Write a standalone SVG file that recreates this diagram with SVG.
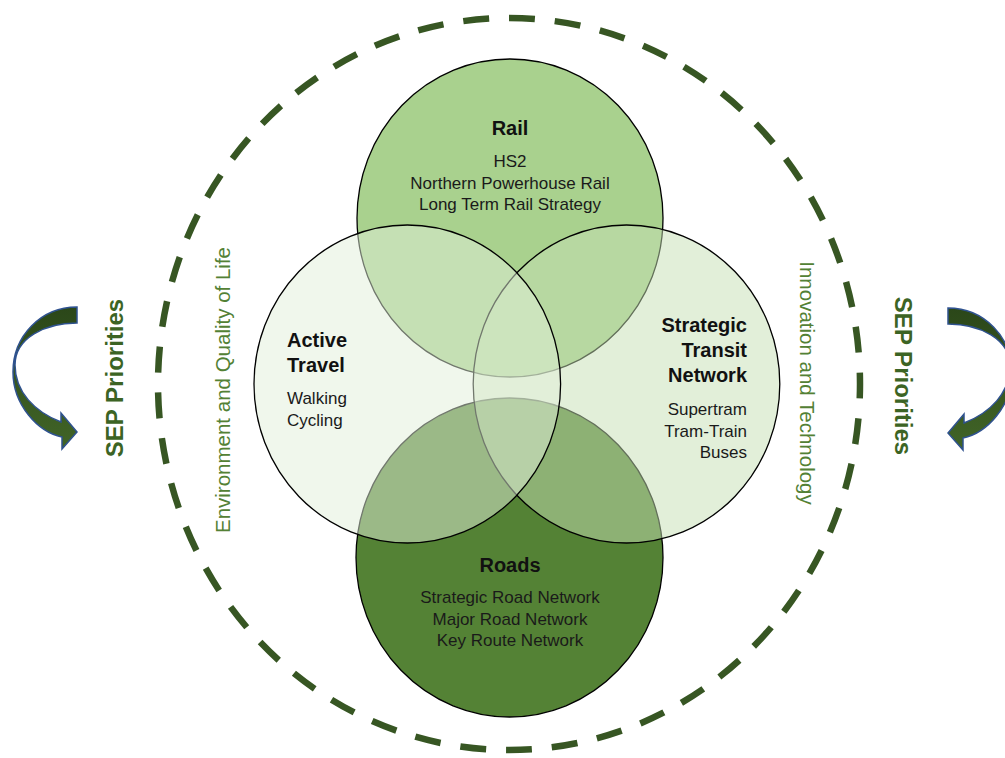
<svg xmlns="http://www.w3.org/2000/svg" width="1005" height="758" viewBox="0 0 1005 758">
  <defs>
    <linearGradient id="arrowGrad" x1="0" y1="0" x2="0" y2="1">
      <stop offset="0" stop-color="#2b4719"/>
      <stop offset="1" stop-color="#416427"/>
    </linearGradient>
    <path id="curvedArrow" d="M77,307 C41,307 13,336 13,372 C13,405 38,432 62,437 L62,449 L77,432 L61,413 L61,422 C35,412 15,392 15,365 C15,338 45,323 77,323 Z"/>
  </defs>
  <style>
    .circ { stroke: #000; stroke-width: 1.3; }
    .title { font-family: "Liberation Sans", Arial, sans-serif; font-weight: bold; font-size: 20px; fill: #111; }
    .body { font-family: "Liberation Sans", Arial, sans-serif; font-size: 17px; fill: #1a1a1a; }
    .side { font-family: "Liberation Sans", Arial, sans-serif; font-size: 20.5px; fill: #538135; }
    .sep { font-family: "Liberation Sans", Arial, sans-serif; font-weight: bold; font-size: 24px; fill: #3c6424; }
    .arrow { fill: url(#arrowGrad); stroke: #2f528f; stroke-width: 1.5; }
  </style>
  <rect width="1005" height="758" fill="#ffffff"/>

  <g id="outer-ring">
    <path d="M509,18 A351,366 0 1,1 509,750 A351,366 0 1,1 509,18" fill="none" stroke="#375623" stroke-width="6.5" pathLength="2254" stroke-dasharray="26 20"/>
  </g>

  <g id="rail">
    <ellipse class="circ" cx="510" cy="218" rx="153" ry="159" fill="#a9d18e"/>
  </g>
  <g id="roads">
    <ellipse class="circ" cx="509.5" cy="557.5" rx="153.5" ry="159.5" fill="#548235"/>
  </g>
  <g id="strategic-transit-network">
    <ellipse class="circ" cx="626.5" cy="384" rx="153.3" ry="159" fill="#c5e0b4" fill-opacity="0.5"/>
  </g>
  <g id="active-travel">
    <ellipse class="circ" cx="407.3" cy="384" rx="153.3" ry="159" fill="#e2efda" fill-opacity="0.5"/>
  </g>

  <g id="rail-text" text-anchor="middle">
    <text class="title" x="510" y="135">Rail</text>
    <text class="body" x="510" y="167">HS2</text>
    <text class="body" x="510" y="188.5">Northern Powerhouse Rail</text>
    <text class="body" x="510" y="210">Long Term Rail Strategy</text>
  </g>
  <g id="active-travel-text">
    <text class="title" x="287" y="347">Active</text>
    <text class="title" x="287" y="372">Travel</text>
    <text class="body" x="287" y="404">Walking</text>
    <text class="body" x="287" y="425.5">Cycling</text>
  </g>
  <g id="stn-text" text-anchor="end">
    <text class="title" x="747" y="332">Strategic</text>
    <text class="title" x="747" y="357">Transit</text>
    <text class="title" x="747" y="382">Network</text>
    <text class="body" x="747" y="415">Supertram</text>
    <text class="body" x="747" y="436.5">Tram-Train</text>
    <text class="body" x="747" y="458">Buses</text>
  </g>
  <g id="roads-text" text-anchor="middle">
    <text class="title" x="510" y="572">Roads</text>
    <text class="body" x="510" y="603">Strategic Road Network</text>
    <text class="body" x="510" y="624.5">Major Road Network</text>
    <text class="body" x="510" y="646">Key Route Network</text>
  </g>

  <g id="side-labels" text-anchor="middle">
    <text class="side" transform="translate(230,390) rotate(-90)">Environment and Quality of Life</text>
    <text class="side" transform="translate(800,383) rotate(90)">Innovation and Technology</text>
  </g>

  <g id="sep-left">
    <use href="#curvedArrow" class="arrow"/>
    <text class="sep" text-anchor="middle" transform="translate(123,378) rotate(-90)">SEP Priorities</text>
  </g>
  <g id="sep-right">
    <use href="#curvedArrow" class="arrow" transform="translate(1025,1) scale(-1,1)"/>
    <text class="sep" text-anchor="middle" transform="translate(895,376) rotate(90)">SEP Priorities</text>
  </g>
</svg>
